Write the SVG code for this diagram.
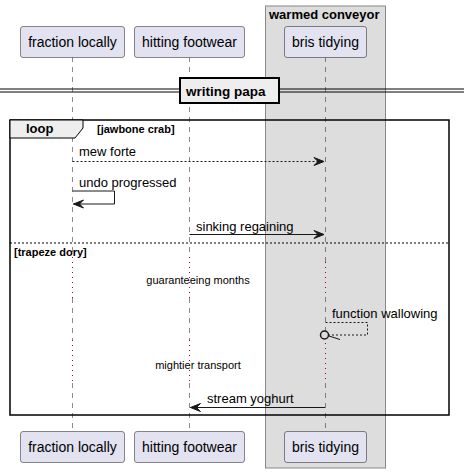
<svg xmlns="http://www.w3.org/2000/svg" width="464" height="473" viewBox="0 0 464 473">
<defs>
<style>
.p{fill:#E2E2F0;stroke:#181818;stroke-width:0.5}
.pt{font-family:"Liberation Sans",Arial,sans-serif;font-size:14px;fill:#000;text-anchor:middle}
.m{font-family:"Liberation Sans",Arial,sans-serif;font-size:13px;fill:#000}
.d{font-family:"Liberation Sans",Arial,sans-serif;font-size:11px;fill:#000;text-anchor:middle}
.b{font-family:"Liberation Sans",Arial,sans-serif;font-weight:bold;fill:#000}
.ll{stroke:#181818;stroke-width:0.5;stroke-dasharray:5,5;fill:none}
.dl{stroke:#A80036;stroke-width:1;stroke-dasharray:1,4;fill:none}
.ar{stroke:#181818;stroke-width:1;fill:none}
.ah{fill:#181818;stroke:#181818;stroke-width:1}
</style>
</defs>
<g id="box-warmed-conveyor">
<rect x="265.5" y="6" width="120" height="462" fill="#DDDDDD" stroke="#888888" stroke-width="1"/>
<text class="b" x="269" y="19" font-size="13">warmed conveyor</text>
</g>
<g id="lifelines">
<path class="ll" d="M72.5,57V257M72.5,298V340M72.5,383V431"/>
<path class="dl" d="M72.5,257V298M72.5,340V383"/>
<path class="ll" d="M189.5,57V257M189.5,298V340M189.5,383V431"/>
<path class="dl" d="M189.5,257V298M189.5,340V383"/>
<path class="ll" d="M325.5,57V262M325.5,297V331M325.5,383V431"/>
<path class="dl" d="M325.5,262V297M325.5,343V383"/>
</g>
<g id="divider-writing-papa">
<line x1="0" y1="89" x2="464" y2="89" stroke="#000" stroke-width="1"/>
<line x1="0" y1="92" x2="464" y2="92" stroke="#000" stroke-width="1"/>
<rect x="180" y="78" width="99" height="25" fill="#EEEEEE" stroke="#000" stroke-width="2"/>
<text class="b" x="186" y="95.5" font-size="13.5">writing papa</text>
</g>
<g id="loop-frame">
<rect x="10" y="120" width="439" height="295" fill="none" stroke="#000" stroke-width="1.5"/>
<path d="M10,120H83V128L75,138H10Z" fill="#EEEEEE" stroke="#000" stroke-width="1"/>
<text class="b" x="26" y="133" font-size="13">loop</text>
<text class="b" x="97" y="133" font-size="11">[jawbone crab]</text>
<line x1="10" y1="243" x2="449" y2="243" stroke="#000" stroke-width="1" stroke-dasharray="2,2"/>
<text class="b" x="14" y="255.5" font-size="11">[trapeze dory]</text>
</g>
<g id="connectors">
<g id="msg-mew-forte">
<line class="ar" x1="72.5" y1="161.5" x2="324" y2="161.5" stroke-dasharray="2,2"/>
<polygon class="ah" points="314,157.5 324,161.5 314,165.5 318,161.5"/>
<text class="m" x="79" y="156">mew forte</text>
</g>
<g id="msg-undo-progressed">
<polyline class="ar" points="72.5,191 114.5,191 114.5,204 73.5,204"/>
<polygon class="ah" points="83.5,200 73.5,204 83.5,208 79.5,204"/>
<text class="m" x="79" y="187">undo progressed</text>
</g>
<g id="msg-sinking-regaining">
<line class="ar" x1="189.5" y1="234.5" x2="324" y2="234.5"/>
<polygon class="ah" points="314,230.5 324,234.5 314,238.5 318,234.5"/>
<text class="m" x="196" y="231">sinking regaining</text>
</g>
<g id="delay-guaranteeing-months">
<text class="d" x="198" y="284">guaranteeing months</text>
</g>
<g id="msg-function-wallowing">
<polyline class="ar" points="325.5,322.5 367.5,322.5 367.5,335 329,335" stroke-dasharray="2,2"/>
<circle cx="324.5" cy="335" r="4" fill="none" stroke="#181818" stroke-width="1.5"/>
<line class="ar" x1="329" y1="336" x2="340" y2="339.5"/>
<text class="m" x="332" y="318">function wallowing</text>
</g>
<g id="delay-mightier-transport">
<text class="d" x="198" y="369">mightier transport</text>
</g>
<g id="msg-stream-yoghurt">
<line class="ar" x1="325" y1="407.5" x2="190.5" y2="407.5"/>
<polygon class="ah" points="200.5,403.5 190.5,407.5 200.5,411.5 196.5,407.5"/>
<text class="m" x="207" y="403">stream yoghurt</text>
</g>
</g>
<g id="fraction-locally">
<rect class="p" x="20.5" y="26.5" width="104" height="31" rx="2.5"/>
<text class="pt" x="72.5" y="47">fraction locally</text>
<rect class="p" x="20.5" y="431.5" width="104" height="31" rx="2.5"/>
<text class="pt" x="72.5" y="452">fraction locally</text>
</g>
<g id="hitting-footwear">
<rect class="p" x="134.5" y="26.5" width="110" height="31" rx="2.5"/>
<text class="pt" x="189.5" y="47">hitting footwear</text>
<rect class="p" x="134.5" y="431.5" width="110" height="31" rx="2.5"/>
<text class="pt" x="189.5" y="452">hitting footwear</text>
</g>
<g id="bris-tidying">
<rect class="p" x="284.5" y="26.5" width="82" height="31" rx="2.5"/>
<text class="pt" x="325.5" y="47">bris tidying</text>
<rect class="p" x="284.5" y="431.5" width="82" height="31" rx="2.5"/>
<text class="pt" x="325.5" y="452">bris tidying</text>
</g>
</svg>
